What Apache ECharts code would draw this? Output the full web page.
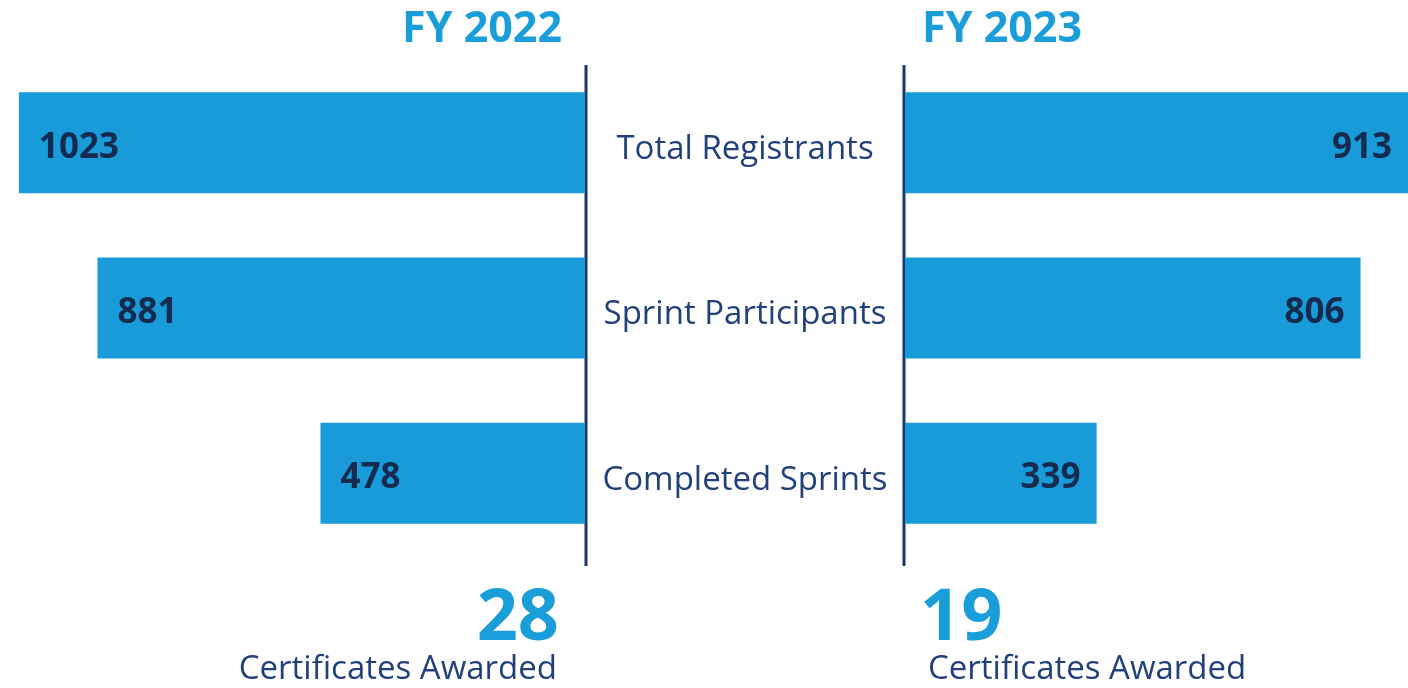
<!DOCTYPE html>
<html>
<head>
<meta charset="utf-8">
<script src="https://cdn.jsdelivr.net/npm/echarts@6/dist/echarts.min.js"></script>
<style>
    html, body { margin: 0; padding: 0; background: #fff; }
    #chart { width: 1408px; height: 688px; }
</style>
</head>
<body>
<div id="chart"></div>
<script>
const categories = ['Total Registrants', 'Sprint Participants', 'Completed Sprints'];
const fy2022 = [1023, 881, 478];
const fy2023 = [913, 806, 339];
const yearLabels = ['FY 2022', 'FY 2023'];
const certificates = [28, 19];
const certLabel = 'Certificates Awarded';

const BLUE = '#189bd8';
const NAVY = '#22417a';
const DARK = '#142a4e';
const FONT = '"Open Sans", sans-serif';

const chart = echarts.init(document.getElementById('chart'));

const valueLabel = (pos, dist) => ({
    show: true,
    position: pos,
    distance: dist,
    offset: [0, 5],
    color: DARK,
    fontFamily: FONT,
    fontWeight: 'bold',
    fontSize: 35
});

const options = {
    backgroundColor: '#fff',
    animation: false,
    grid: [
        { left: 15, width: 570, top: 60, height: 496 },
        { left: 905, width: 503, top: 60, height: 496 }
    ],
    xAxis: [
        { gridIndex: 0, type: 'value', inverse: true, min: 0, max: 1030, show: false },
        { gridIndex: 1, type: 'value', min: 0, max: 890, show: false }
    ],
    yAxis: [
        {
            gridIndex: 0,
            type: 'category',
            inverse: true,
            data: categories,
            axisLine: { show: false },
            axisTick: { show: false },
            axisLabel: { show: false }
        },
        {
            gridIndex: 1,
            type: 'category',
            inverse: true,
            data: categories,
            axisLine: { show: false },
            axisTick: { show: false },
            axisLabel: {
                margin: 160,
                align: 'center',
                verticalAlign: 'top',
                lineHeight: 14,
                color: NAVY,
                fontFamily: FONT,
                fontSize: 33
            }
        }
    ],
    series: [
        {
            name: yearLabels[0],
            type: 'bar',
            xAxisIndex: 0,
            yAxisIndex: 0,
            barWidth: 101,
            itemStyle: { color: BLUE },
            label: valueLabel('insideLeft', 20),
            data: fy2022
        },
        {
            name: yearLabels[1],
            type: 'bar',
            xAxisIndex: 1,
            yAxisIndex: 1,
            barWidth: 101,
            clip: true,
            itemStyle: { color: BLUE },
            label: valueLabel('insideRight', 16),
            data: fy2023
        }
    ],
    graphic: [
        // dividers
        { type: 'line', shape: { x1: 586, y1: 65, x2: 586, y2: 566 }, style: { stroke: '#1d3768', lineWidth: 3 } },
        { type: 'line', shape: { x1: 904, y1: 65, x2: 904, y2: 566 }, style: { stroke: '#1d3768', lineWidth: 3 } },
        // year headers
        { type: 'text', x: 482, y: 30, style: { text: yearLabels[0], textAlign: 'center', textVerticalAlign: 'middle', fill: '#1a9ed9', font: 'bold 43px ' + FONT } },
        { type: 'text', x: 1002, y: 30, style: { text: yearLabels[1], textAlign: 'center', textVerticalAlign: 'middle', fill: '#1a9ed9', font: 'bold 43px ' + FONT } },
        // certificates
        { type: 'text', x: 559, y: 619, style: { text: String(certificates[0]), textAlign: 'right', textVerticalAlign: 'middle', fill: '#1a9ed9', font: 'bold 72px ' + FONT } },
        { type: 'text', x: 557, y: 670, style: { text: certLabel, textAlign: 'right', textVerticalAlign: 'middle', fill: NAVY, font: '33px ' + FONT } },
        { type: 'text', x: 920, y: 619, style: { text: String(certificates[1]), textAlign: 'left', textVerticalAlign: 'middle', fill: '#1a9ed9', font: 'bold 72px ' + FONT } },
        { type: 'text', x: 928, y: 670, style: { text: certLabel, textAlign: 'left', textVerticalAlign: 'middle', fill: NAVY, font: '33px ' + FONT } }
    ]
};

chart.setOption(options);
</script>
</body>
</html>
